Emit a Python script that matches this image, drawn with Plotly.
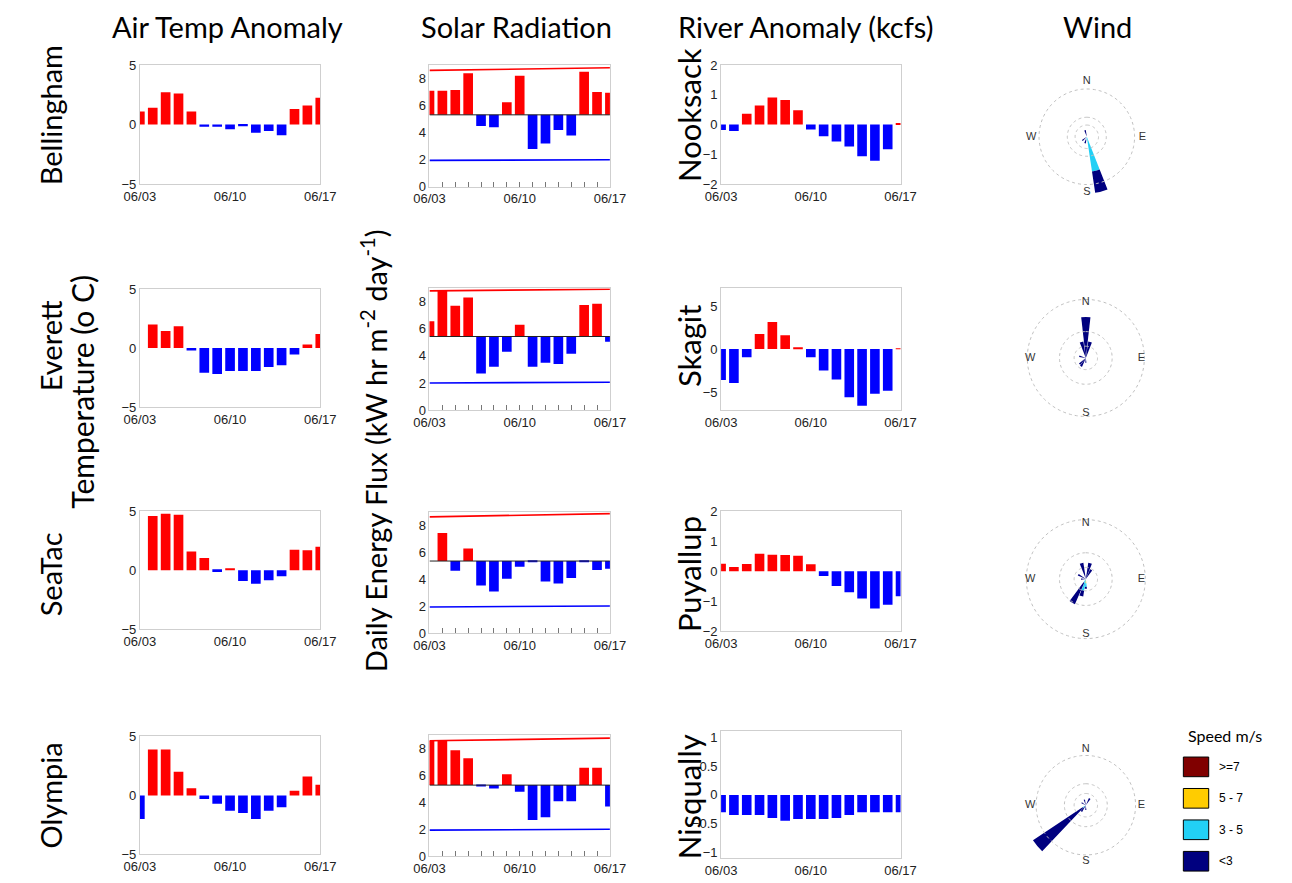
import plotly.graph_objects as go

W, H = 1292, 883

# ---------------- DATA ----------------
days = ["06/03", "06/04", "06/05", "06/06", "06/07", "06/08", "06/09", "06/10",
        "06/11", "06/12", "06/13", "06/14", "06/15", "06/16", "06/17"]
day_labels = ["06/03", "06/10", "06/17"]

stations = ["Bellingham", "Everett", "SeaTac", "Olympia"]
rivers = ["Nooksack", "Skagit", "Puyallup", "Nisqually"]

# Air temperature anomaly (deg C)
air_bellingham = [1.1, 1.4, 2.7, 2.6, 1.1, -0.2, -0.2, -0.4, -0.15, -0.7, -0.55, -0.9, 1.3, 1.6, 2.25]
air_everett = [0.0, 2.0, 1.45, 1.85, -0.2, -2.1, -2.2, -1.95, -1.95, -1.95, -1.6, -1.45, -0.55, 0.3, 1.2]
air_seatac = [0.0, 4.6, 4.8, 4.7, 1.6, 1.05, -0.15, 0.1, -0.9, -1.15, -0.85, -0.5, 1.75, 1.7, 2.0]
air_olympia = [-2.0, 3.9, 3.9, 2.0, 0.6, -0.3, -0.7, -1.3, -1.5, -2.0, -1.3, -1.0, 0.4, 1.6, 0.9]

# Solar radiation (kW hr m-2 day-1)
solar_bellingham = [7.1, 7.1, 7.15, 8.4, 4.5, 4.4, 6.25, 8.2, 2.8, 3.2, 4.2, 3.8, 8.5, 7.0, 6.95]
solar_everett = [6.55, 8.8, 7.7, 8.3, 2.7, 3.2, 4.3, 6.3, 3.2, 3.5, 3.4, 4.15, 7.75, 7.85, 5.05]
solar_seatac = [5.37, 7.45, 4.65, 6.3, 3.55, 3.1, 4.05, 4.95, 5.28, 3.85, 3.7, 4.1, 5.28, 4.7, 4.8]
solar_olympia = [8.6, 8.6, 7.9, 7.3, 5.25, 5.05, 6.1, 4.8, 2.7, 2.9, 4.1, 4.1, 6.6, 6.6, 3.7]
solar_base = [5.32, 5.43, 5.37, 5.3]
solar_max = [[8.6, 8.8], [8.8, 8.92], [8.66, 8.9], [8.6, 8.8]]     # climatological max (start, end)
solar_min = [[1.96, 2.0], [2.0, 2.05], [1.95, 2.02], [1.95, 2.02]]  # climatological min (start, end)

# River flow anomaly (kcfs)
river_nooksack = [-0.19, -0.22, 0.36, 0.64, 0.91, 0.82, 0.48, -0.17, -0.4, -0.57, -0.74, -1.07, -1.22, -0.83, 0.02]
river_skagit = [-3.6, -3.95, -0.95, 1.75, 3.15, 1.6, 0.2, -0.95, -2.5, -3.55, -5.6, -6.6, -5.2, -4.85, 0.08]
river_puyallup = [0.25, 0.14, 0.24, 0.58, 0.55, 0.54, 0.52, 0.23, -0.16, -0.49, -0.7, -0.91, -1.24, -1.12, -0.83]
river_nisqually = [-0.3, -0.35, -0.35, -0.35, -0.4, -0.45, -0.42, -0.42, -0.42, -0.4, -0.35, -0.3, -0.3, -0.3, -0.3]

# Wind roses: direction (deg, clockwise from N) and frequency per speed class
speed_classes = [">=7", "5 - 7", "3 - 5", "<3"]
speed_colors = ["#800000", "#ffcc00", "#22d0f5", "#00007f"]

wind_bellingham_dir = [165, 345, 230, 195]
wind_bellingham = {">=7": [0, 0, 0, 0], "5 - 7": [0, 0, 0, 0],
                   "3 - 5": [36, 0, 0, 3], "<3": [22, 7, 6, 4]}
wind_everett_dir = [0, 345, 15, 210, 225, 285, 180]
wind_everett = {">=7": [0] * 7, "5 - 7": [0] * 7,
                "3 - 5": [0, 0, 0, 0, 0, 0, 0], "<3": [42, 17, 17, 10, 9, 7, 5]}
wind_seatac_dir = [210, 195, 180, 345, 15, 30, 300, 270]
wind_seatac = {">=7": [0] * 8, "5 - 7": [0, 0, 4, 0, 0, 0, 0, 0],
               "3 - 5": [4, 12, 4, 0, 0, 0, 0, 0], "<3": [24, 6, 2, 17, 17, 11, 9, 5]}
wind_olympia_dir = [230, 215, 30, 345, 180, 300]
wind_olympia = {">=7": [0] * 6, "5 - 7": [0] * 6,
                "3 - 5": [4, 0, 0, 0, 0, 0], "<3": [61, 8, 8, 6, 5, 5]}
rose_circles = [[12, 20, 49], [12, 27, 60], [12, 27, 61], [12, 22, 51]]

# ---------------- GEOMETRY (pixels) ----------------
col_x = [(127, 312), (424, 609), (723, 907)]
row_y_air = [(59, 180), (287, 407), (513, 633), (742, 862)]
row_y_solar = [(59, 183), (286, 410), (514, 637), (741, 864)]
row_y_river = [(59, 180), (286, 410), (513, 635), (737, 866)]
rose_centers = [(1098, 132), (1097, 357), (1097, 582), (1097, 812)]
ROSE_R = 70

TICKFONT = dict(family="Liberation Sans, Arial, sans-serif", size=13, color="#222")
FAM = "Lato, sans-serif"
FRAME = "#cfcfcf"
RED, BLUE = "#ff0000", "#0000ff"


def xdom(a, b):
    return [a / W, b / W]


def ydom(top, bottom):
    return [1 - bottom / H, 1 - top / H]


fig = go.Figure()
layout = dict(width=W, height=H, margin=dict(l=0, r=0, t=0, b=0),
              paper_bgcolor="white", plot_bgcolor="white", showlegend=False)

air_all = [air_bellingham, air_everett, air_seatac, air_olympia]
solar_all = [solar_bellingham, solar_everett, solar_seatac, solar_olympia]
river_all = [river_nooksack, river_skagit, river_puyallup, river_nisqually]
river_ranges = [[-2, 2], [-7.1, 7.1], [-2, 2], [-1.1, 1.1]]
river_ticks = [[-2, -1, 0, 1, 2], [-5, 0, 5], [-2, -1, 0, 1, 2], [-1, -0.5, 0, 0.5, 1]]


def set_axes(n, cx, ry, yrange, yticks, solar=False):
    xa = dict(domain=xdom(*cx), anchor=f"y{n}", type="category", range=[0, 14],
              showline=True, mirror=True, linecolor=FRAME, linewidth=1, tickangle=0,
              showgrid=False, zeroline=False, tickfont=TICKFONT, fixedrange=True)
    if solar:
        xa.update(tickmode="array", tickvals=days,
                  ticktext=[d if d in day_labels else "" for d in days],
                  ticks="inside", ticklen=5, tickcolor="#777", tickwidth=1)
    else:
        xa.update(tickmode="array", tickvals=day_labels, ticktext=day_labels, ticks="")
    ya = dict(domain=ydom(*ry), anchor=f"x{n}", range=yrange, tickmode="array",
              tickvals=yticks, ticks="", showline=True, mirror=True, linecolor=FRAME,
              linewidth=1, showgrid=False, zeroline=False, tickfont=TICKFONT, fixedrange=True)
    layout["xaxis" if n == 1 else f"xaxis{n}"] = xa
    layout["yaxis" if n == 1 else f"yaxis{n}"] = ya


for r in range(4):
    # Air temperature
    n = r * 3 + 1
    set_axes(n, col_x[0], row_y_air[r], [-5, 5], [-5, 0, 5])
    vals = air_all[r]
    fig.add_trace(go.Bar(x=days, y=vals, width=0.75,
                         marker=dict(color=[RED if v >= 0 else BLUE for v in vals], line=dict(width=0)),
                         xaxis=f"x{n if n > 1 else ''}", yaxis=f"y{n if n > 1 else ''}"))
    # Solar
    n = r * 3 + 2
    set_axes(n, col_x[1], row_y_solar[r], [0, 9], [0, 2, 4, 6, 8], solar=True)
    b = solar_base[r]
    vals = solar_all[r]
    fig.add_trace(go.Bar(x=days, y=[v - b for v in vals], base=b, width=0.75,
                         marker=dict(color=[RED if v >= b else BLUE for v in vals], line=dict(width=0)),
                         xaxis=f"x{n}", yaxis=f"y{n}"))
    fig.add_trace(go.Scatter(x=[days[0], days[-1]], y=[b, b], mode="lines",
                             line=dict(color="#222", width=1), xaxis=f"x{n}", yaxis=f"y{n}"))
    fig.add_trace(go.Scatter(x=[days[0], days[-1]], y=solar_max[r], mode="lines",
                             line=dict(color=RED, width=1.6), xaxis=f"x{n}", yaxis=f"y{n}"))
    fig.add_trace(go.Scatter(x=[days[0], days[-1]], y=solar_min[r], mode="lines",
                             line=dict(color=BLUE, width=1.6), xaxis=f"x{n}", yaxis=f"y{n}"))
    # River
    n = r * 3 + 3
    set_axes(n, col_x[2], row_y_river[r], river_ranges[r], river_ticks[r])
    vals = river_all[r]
    fig.add_trace(go.Bar(x=days, y=vals, width=0.75,
                         marker=dict(color=[RED if v >= 0 else BLUE for v in vals], line=dict(width=0)),
                         xaxis=f"x{n}", yaxis=f"y{n}"))

# Wind roses
wind_dirs = [wind_bellingham_dir, wind_everett_dir, wind_seatac_dir, wind_olympia_dir]
wind_data = [wind_bellingham, wind_everett, wind_seatac, wind_olympia]
circle_theta = list(range(0, 361, 3))
for r in range(4):
    pid = f"polar{r + 1 if r > 0 else ''}"
    cx, cy = rose_centers[r]
    layout[pid] = dict(
        domain=dict(x=xdom(cx - ROSE_R, cx + ROSE_R), y=ydom(cy - ROSE_R, cy + ROSE_R)),
        radialaxis=dict(visible=False, range=[0, ROSE_R]),
        angularaxis=dict(visible=False, rotation=90, direction="clockwise"),
        bgcolor="rgba(0,0,0,0)", barmode="stack")
    sub = pid
    for rad in rose_circles[r]:
        fig.add_trace(go.Scatterpolar(r=[rad] * len(circle_theta), theta=circle_theta, mode="lines",
                                      line=dict(color="#c0c0c0", width=1, dash="dot"), subplot=sub))
    for cls, colr in zip(speed_classes, speed_colors):
        fig.add_trace(go.Barpolar(r=wind_data[r][cls], theta=wind_dirs[r], width=13,
                                  marker=dict(color=colr, line=dict(width=0)), subplot=sub))
    fig.add_trace(go.Scatterpolar(r=[57, 57, 57, 57], theta=[0, 90, 180, 270], mode="text",
                                  text=["N", "E", "S", "W"],
                                  textfont=dict(family="Liberation Sans, Arial", size=11, color="#333"),
                                  subplot=sub))

# Annotations
ann = []


def text(x, y, s, size, angle=0, family=FAM, xanchor="center", yanchor="middle"):
    ann.append(dict(x=x / W, y=1 - y / H, xref="paper", yref="paper", text=s, showarrow=False,
                    textangle=angle, font=dict(family=family, size=size, color="black"),
                    xanchor=xanchor, yanchor=yanchor))


text(217, 20, "Air Temp Anomaly", 29)
text(513, 20, "Solar Radiation", 29)
text(810, 20, "River Anomaly (kcfs)", 29)
text(1109, 20, "Wind", 29)
for name, y in zip(stations, [110, 345, 577, 802]):
    text(35, y, name, 29, angle=-90)
for name, y in zip(rivers, [110, 345, 577, 803]):
    text(690, y, name, 31, angle=-90)
text(68, 391, "Temperature (o C)", 30, angle=-90)
text(367, 451, "Daily Energy Flux (kW hr m<sup>-2</sup> day<sup>-1</sup>)", 29, angle=-90)

# Speed legend
text(1240, 741, "Speed m/s", 16)
shapes = []
for i, (cls, colr) in enumerate(zip(speed_classes, speed_colors)):
    top = 763 + i * 32
    shapes.append(dict(type="rect", xref="paper", yref="paper", x0=1197 / W, x1=1223 / W,
                       y0=1 - (top + 20) / H, y1=1 - top / H, fillcolor=colr,
                       line=dict(color="black", width=1)))
    text(1232, top + 10, cls, 12, family="Liberation Sans, Arial", xanchor="left")

layout["annotations"] = ann
layout["shapes"] = shapes
fig.update_layout(**layout)
fig.write_html("out.html")
